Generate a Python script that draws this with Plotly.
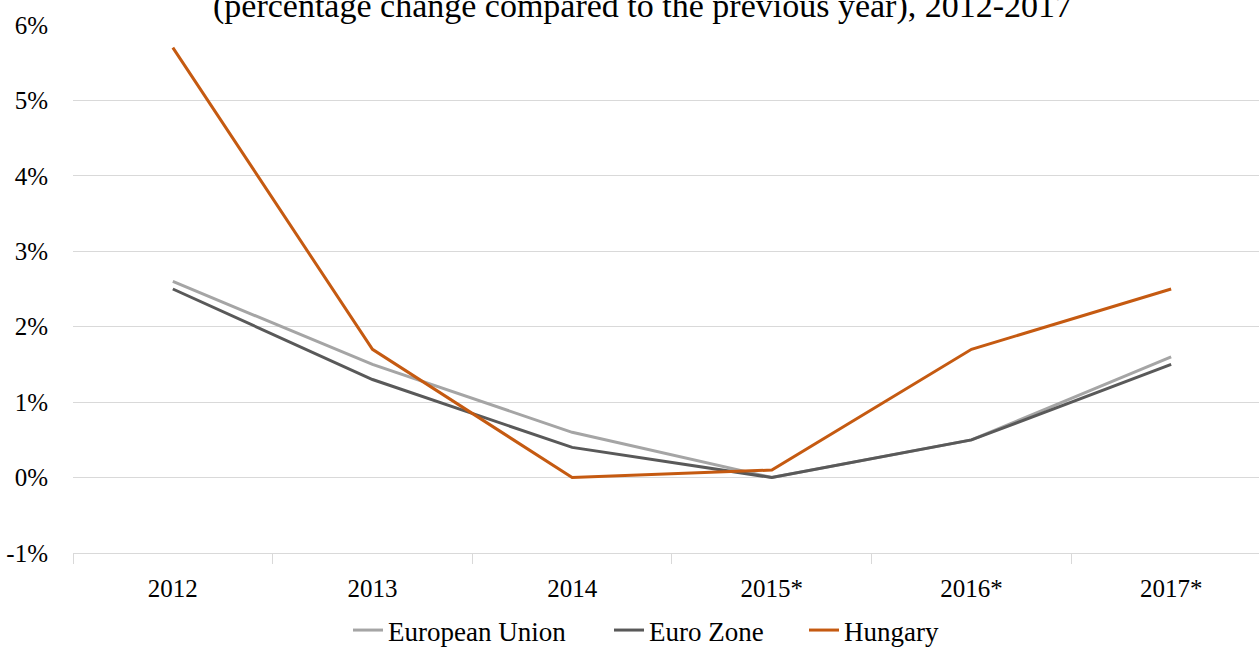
import plotly.graph_objects as go

years = ["2012", "2013", "2014", "2015*", "2016*", "2017*"]
eu = [2.6, 1.5, 0.6, 0.0, 0.5, 1.6]
euro_zone = [2.5, 1.3, 0.4, 0.0, 0.5, 1.5]
hungary = [5.7, 1.7, 0.0, 0.1, 1.7, 2.5]

y_ticks = [-1, 0, 1, 2, 3, 4, 5, 6]
y_tick_labels = ["-1%", "0%", "1%", "2%", "3%", "4%", "5%", "6%"]

series = [
    ("European Union", eu, "#a5a5a5", "legend"),
    ("Euro Zone", euro_zone, "#595959", "legend2"),
    ("Hungary", hungary, "#c55a11", "legend3"),
]

FONT = "Liberation Serif"
x_pos = list(range(len(years)))

fig = go.Figure()
for name, vals, color, leg in series:
    fig.add_trace(go.Scatter(
        x=x_pos, y=vals, name=name, mode="lines",
        line=dict(color=color, width=3),
        legend=leg,
    ))

legend_style = dict(
    orientation="h", xref="container", yref="container",
    xanchor="left", y=-0.008, yanchor="bottom",
    font=dict(size=27, family=FONT, color="#000000"),
    bgcolor="rgba(0,0,0,0)",
)

fig.update_layout(
    width=1259, height=655,
    paper_bgcolor="white", plot_bgcolor="white",
    margin=dict(l=73, r=0, t=25, b=102),
    font=dict(family=FONT, color="#000000", size=25),
    showlegend=True,
    legend=dict(legend_style, x=348 / 1259),
    legend2=dict(legend_style, x=609 / 1259),
    legend3=dict(legend_style, x=804 / 1259),
    annotations=[dict(
        text="(percentage change compared to the previous year), 2012-2017",
        xref="paper", yref="paper", x=(642 - 73) / 1186, xanchor="center",
        y=1.0, yanchor="bottom", yshift=-2, showarrow=False,
        font=dict(size=34, family=FONT, color="#000000"),
    )],
)

fig.update_yaxes(
    range=[-1, 6], tickvals=y_ticks, ticktext=y_tick_labels,
    showgrid=True, gridcolor="#d9d9d9", gridwidth=1,
    zeroline=False, showline=False, ticks="",
    ticklabelstandoff=24,
    tickfont=dict(size=25, family=FONT, color="#000000"),
)

fig.update_xaxes(
    range=[-0.5, 5.44],
    tickvals=x_pos, ticktext=years,
    showgrid=False, zeroline=False,
    showline=True, linecolor="#d9d9d9", linewidth=1,
    ticks="", ticklabelstandoff=13,
    tickfont=dict(size=25, family=FONT, color="#000000"),
    minor=dict(
        tickvals=[i - 0.5 for i in range(len(years) + 1)],
        ticks="outside", ticklen=10, tickcolor="#d9d9d9", tickwidth=1,
    ),
)

fig.write_html("out.html")
